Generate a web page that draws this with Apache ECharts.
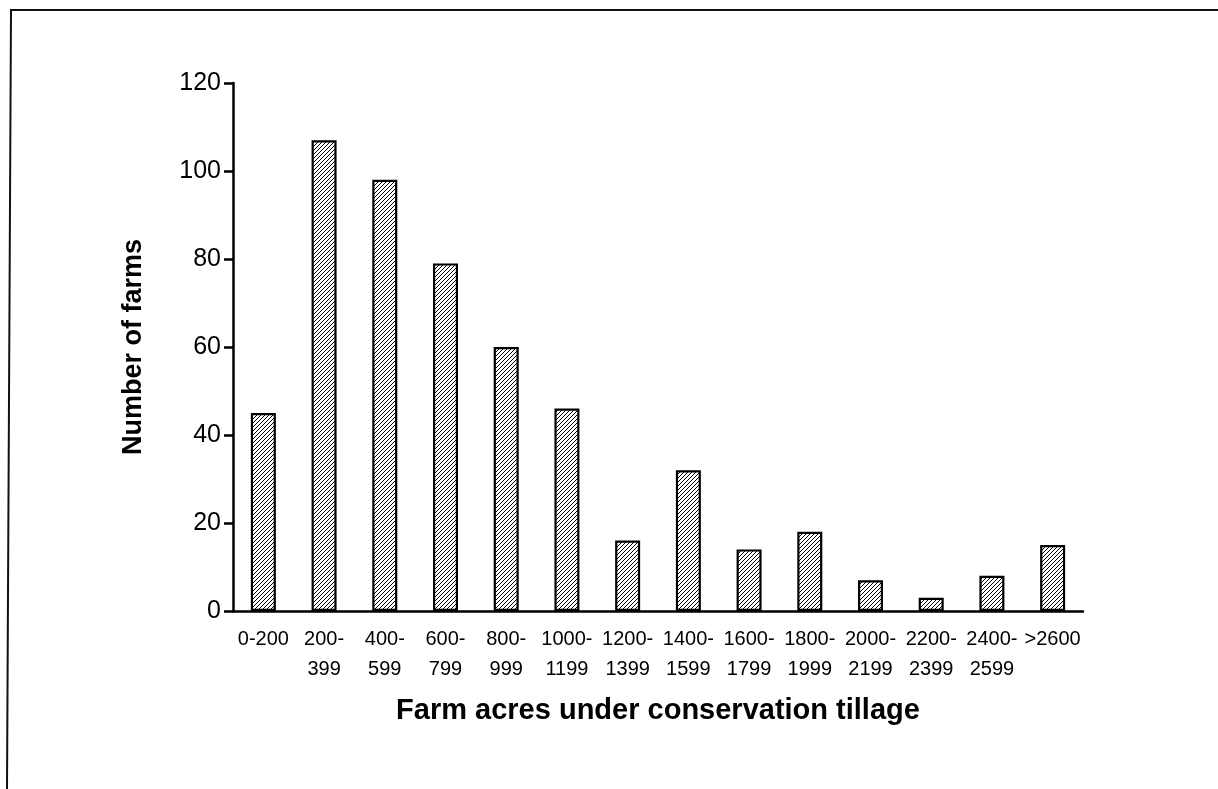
<!DOCTYPE html>
<html>
<head>
<meta charset="utf-8">
<script src="https://cdn.jsdelivr.net/npm/echarts@6/dist/echarts.min.js"></script>
<style>
html,body{margin:0;padding:0;background:#fff;}
#c{width:1218px;height:789px;}
</style>
</head>
<body>
<div id="c"></div>
<script>
const categories = ['0-200','200-\n399','400-\n599','600-\n799','800-\n999','1000-\n1199','1200-\n1399','1400-\n1599','1600-\n1799','1800-\n1999','2000-\n2199','2200-\n2399','2400-\n2599','>2600'];
const farms = [45,107,98,79,60,46,16,32,14,18,7,3,8,15];
const yTicks = {min:0, max:120, interval:20};

function hatch(){
  const s = 4;
  const cv = document.createElement('canvas');
  cv.width = s; cv.height = s;
  const g = cv.getContext('2d');
  g.fillStyle = '#fff'; g.fillRect(0,0,s,s);
  g.strokeStyle = '#000'; g.lineWidth = 1.0;
  g.beginPath();
  g.moveTo(-1, s+1); g.lineTo(s+1, -1);
  g.moveTo(-1, 1); g.lineTo(1, -1);
  g.moveTo(s-1, s+1); g.lineTo(s+1, s-1);
  g.stroke();
  return cv;
}

const chart = echarts.init(document.getElementById('c'));
const font = 'Liberation Sans, Arial, sans-serif';
chart.setOption({
  animation:false,
  backgroundColor:'#fff',
  grid:{left:233, right:135, top:83, bottom:178},
  graphic:[
    {type:'polyline', shape:{points:[[1218,10],[11,10],[7,789]]}, style:{stroke:'#111', lineWidth:2, fill:null}}
  ],
  xAxis:{
    type:'category', data:categories,
    name:'Farm acres under conservation tillage', nameLocation:'middle', nameGap:85,
    nameTextStyle:{fontFamily:font, fontWeight:'bold', fontSize:29, color:'#000'},
    axisLine:{lineStyle:{color:'#000', width:2.5}},
    axisTick:{length:9, lineStyle:{color:'#000', width:2.5}},
    axisLabel:{fontFamily:font, fontSize:20, color:'#000', lineHeight:30, margin:13, interval:0}
  },
  yAxis:{
    type:'value', min:yTicks.min, max:yTicks.max, interval:yTicks.interval,
    name:'Number of farms', nameLocation:'middle', nameGap:86,
    nameTextStyle:{fontFamily:font, fontWeight:'bold', fontSize:27, color:'#000'},
    axisLine:{show:true, lineStyle:{color:'#000', width:2.5}},
    axisTick:{show:true, length:9, lineStyle:{color:'#000', width:2.5}},
    splitLine:{show:false},
    axisLabel:{fontFamily:font, fontSize:25, color:'#000', margin:12}
  },
  series:[{
    type:'bar', data:farms, barWidth:25,
    itemStyle:{color:{image:hatch(), repeat:'repeat'}, borderColor:'#000', borderWidth:2.2}
  }]
});
</script>
</body>
</html>
